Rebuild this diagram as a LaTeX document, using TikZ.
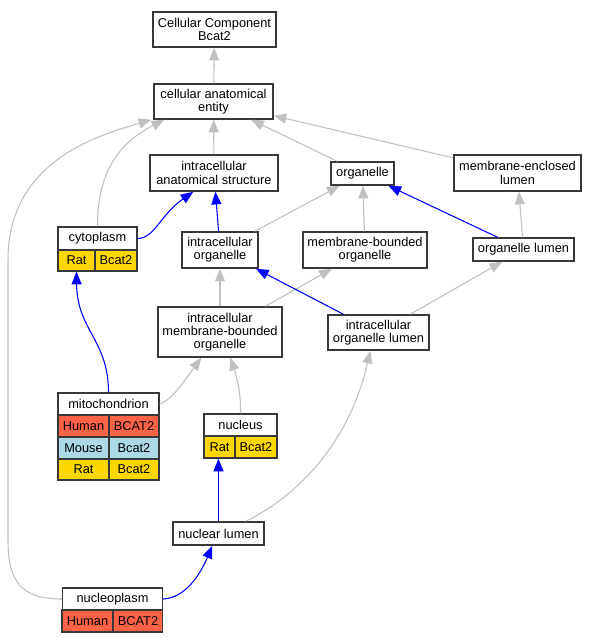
\documentclass[tikz,border=0pt]{standalone}
\usepackage{fontspec}
\setmainfont{Liberation Sans}
\usetikzlibrary{arrows.meta,calc}
\definecolor{edgegray}{HTML}{C0C0C0}
\definecolor{humanred}{HTML}{FF6347}
\definecolor{mouseblue}{HTML}{ADD8E6}
\definecolor{ratgold}{HTML}{FFD700}
\definecolor{bordergray}{HTML}{383838}
\begin{document}
\begin{tikzpicture}[x=0.75pt,y=-0.75pt,
  box/.style 2 args={draw=bordergray, line width=1.1pt, fill=white, inner sep=0pt, align=center,
    font=\fontsize{9.6}{9.9}\selectfont, minimum width=#1*0.75pt, minimum height=#2*0.75pt},
  cellbox/.style 2 args={box={#1}{#2}, line width=1pt},
  isa/.style={draw=edgegray, line width=0.8pt, -{Triangle[length=9.5pt,width=7.5pt]}},
  partof/.style={draw=blue, line width=0.8pt, -{Triangle[length=9.5pt,width=7.5pt]}}
]
\useasboundingbox (0,0) rectangle (596,643);

% plain nodes
\node[box={123}{35}] (cc) at (214.5,29.5) {Cellular Component\\Bcat2};
\node[box={119}{35}] (cae) at (213.5,101.5) {cellular anatomical\\entity};
\node[box={128}{36}] (ias) at (214,173) {intracellular\\anatomical structure};
\node[box={63}{23}] (org) at (362.5,173.5) {organelle};
\node[box={127}{36}] (mel) at (517.5,173) {membrane-enclosed\\lumen};
\node[box={76}{36}] (io) at (220,250) {intracellular\\organelle};
\node[box={124}{36}] (mbo) at (365,250) {membrane-bounded\\organelle};
\node[box={101}{23}] (ol) at (523.5,249.5) {organelle lumen};
\node[box={124}{50}] (imbo) at (220,332) {intracellular\\membrane-bounded\\organelle};
\node[box={101}{35}] (iol) at (378.5,332.5) {intracellular\\organelle lumen};
\node[box={91}{23}] (nl) at (218.5,533.5) {nuclear lumen};

% cytoplasm table
\node[cellbox={79}{23}] (cyto) at (97.5,238.5) {cytoplasm};
\node[cellbox={37}{21}, fill=ratgold] (cytoA) at (76.5,260.5) {Rat};
\node[cellbox={42}{21}, fill=ratgold] (cytoB) at (116,260.5) {Bcat2};

% mitochondrion table
\node[cellbox={101}{22}] (mito) at (108.5,404) {mitochondrion};
\node[cellbox={51}{22}, fill=humanred] (mitoHa) at (83.5,426) {Human};
\node[cellbox={50}{22}, fill=humanred] (mitoHb) at (134,426) {BCAT2};
\node[cellbox={51}{22}, fill=mouseblue] (mitoMa) at (83.5,448) {Mouse};
\node[cellbox={50}{22}, fill=mouseblue] (mitoMb) at (134,448) {Bcat2};
\node[cellbox={51}{21}, fill=ratgold] (mitoRa) at (83.5,469.5) {Rat};
\node[cellbox={50}{21}, fill=ratgold] (mitoRb) at (134,469.5) {Bcat2};

% nucleus table
\node[cellbox={73}{22}] (nuc) at (240.5,425) {nucleus};
\node[cellbox={31}{22}, fill=ratgold] (nucA) at (219.5,447) {Rat};
\node[cellbox={42}{22}, fill=ratgold] (nucB) at (256,447) {Bcat2};

% nucleoplasm table
\node[cellbox={100}{22}] (npl) at (112.5,599) {nucleoplasm};
\node[cellbox={51}{22}, fill=humanred] (nplA) at (87.5,621) {Human};
\node[cellbox={49}{22}, fill=humanred] (nplB) at (138,621) {BCAT2};

% straight edges
\draw[isa] (cae) -- (cc);
\draw[isa] (ias) -- (cae);
\draw[isa] (org) -- (cae);
\draw[isa] (mel) -- (cae);
\draw[isa] (io) -- (org);
\draw[isa] (mbo) -- (org);
\draw[partof] (ol) -- (org);
\draw[isa] (ol) -- (mel);
\draw[partof] (io) -- (ias);
\draw[isa] (imbo) -- (io);
\draw[isa] (imbo) -- (mbo);
\draw[partof] (iol) -- (io);
\draw[isa] (iol) -- (ol);
\draw[partof] (nl.north) -- (nl.north |- nucA.south);

% curved edges
\draw[isa] (cyto.north) .. controls (97.5,165) and (125,140) .. ($(cae.south west)+(11,0)$);
\draw[isa] (npl.west) .. controls (20,599) and (8,580) .. (8,540) -- (8,260)
  .. controls (8,160) and (100,135) .. ($(cae.south west)+(-2,0)$);
\draw[partof] (cyto.east) .. controls (155,238) and (160,215) .. ($(ias.south west)+(44,0)$);
\draw[partof] (mito.north) .. controls (108.5,340) and (77,330) .. (cytoA.south);
\draw[isa] (mito.east) .. controls (172,400) and (185,380) .. ($(imbo.south west)+(44,0)$);
\draw[isa] (nuc.north) .. controls (241,390) and (236,375) .. ($(imbo.south west)+(73,0)$);
\draw[isa] ($(nl.north east)+(-19,0)$) .. controls (300,495) and (350,440) .. ($(iol.south west)+(43,0)$);
\draw[partof] (npl.east) .. controls (185,598) and (200,575) .. ($(nl.south west)+(40,0)$);
\end{tikzpicture}
\end{document}
